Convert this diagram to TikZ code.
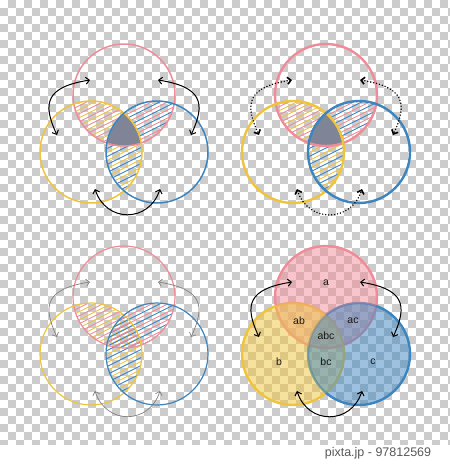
\documentclass[tikz,border=0pt]{standalone}
\usepackage{fontspec}
\setmainfont{Liberation Sans}
\usetikzlibrary{calc}
\usetikzlibrary{arrows.meta}

\definecolor{vred}{HTML}{F08C98}
\definecolor{vyellow}{HTML}{EFC43C}
\definecolor{vblue}{HTML}{3C85BF}
\definecolor{vgray}{HTML}{7F8596}
\definecolor{checker}{HTML}{CCCCCC}

\tikzset{
  hatch/.style={line width=0.9pt},
  link/.style={{Straight Barb[length=3.5pt,width=7pt]}-{Straight Barb[length=3.5pt,width=7pt]}, line width=1pt},
  dotlink/.style={link, line width=1.6pt, dash pattern=on 0pt off 3pt, line cap=round},
  greylink/.style={link, line width=0.7pt, black!50},
  setname/.style={font=\fontsize{10.5}{12}\selectfont, text=black!90}
}

% two-colour hatching of the lens of two circles
\newcommand{\hatchlens}[4]{%
  \begin{scope}
    \clip (#1) circle (51pt);
    \clip (#2) circle (51pt);
    \foreach \k in {-10,...,10} {
      \draw[#3, hatch] ($(#1)!.5!(#2)+(-60,8*\k+30)$) -- +(120,-60);
      \draw[#4, hatch] ($(#1)!.5!(#2)+(-60,8*\k+34)$) -- +(120,-60);
    }
  \end{scope}}

% the three curved arrows of one diagram
\newcommand{\vlinks}[2]{%
  \coordinate (lt#1) at ($(a#1)+(-34,-15)$);
  \coordinate (lb#1) at ($(a#1)+(-67,40)$);
  \coordinate (rt#1) at ($(a#1)+(34,-15)$);
  \coordinate (rb#1) at ($(a#1)+(67,40)$);
  \coordinate (bl#1) at ($(a#1)+(-29,94)$);
  \coordinate (br#1) at ($(a#1)+(36,94)$);
  \draw[#2] (lt#1) .. controls ($(a#1)+(-78,-8)$) and ($(a#1)+(-82,8)$) .. (lb#1);
  \draw[#2] (rt#1) .. controls ($(a#1)+(78,-8)$) and ($(a#1)+(82,8)$) .. (rb#1);
  \draw[#2] (bl#1) .. controls ($(a#1)+(-18,128)$) and ($(a#1)+(25,128)$) .. (br#1);}

\begin{document}
\begin{tikzpicture}[x=1pt,y=-1pt]
\useasboundingbox (0,0) rectangle (450,469);
\fill[white] (0,0) rectangle (450,469);

% transparency checkers
\begin{scope}
  \clip (0,0) rectangle (450,444);
  \foreach \i in {0,2,...,56} \foreach \j in {0,2,...,56} {
    \fill[checker] (8*\i+8,8*\j) rectangle +(8,8);
    \fill[checker] (8*\i,8*\j+8) rectangle +(8,8);
  }
\end{scope}

\foreach \n/\x/\y in {1/124/95, 2/326/95, 3/124/297, 4/326/297} {
  \coordinate (a\n) at (\x,\y);
  \coordinate (b\n) at (\x-33,\y+57);
  \coordinate (c\n) at (\x+33,\y+57);
}

% top left
\hatchlens{a1}{b1}{vred}{vyellow}
\hatchlens{a1}{c1}{vred}{vblue}
\hatchlens{b1}{c1}{vyellow}{vblue}
\begin{scope}
  \clip (a1) circle (51pt);
  \clip (b1) circle (51pt);
  \fill[vgray] (c1) circle (51pt);
\end{scope}
\draw[vred, line width=1.5pt] (a1) circle (51pt);
\draw[vyellow, line width=1.5pt] (b1) circle (51pt);
\draw[vblue, line width=1.5pt] (c1) circle (51pt);
\vlinks{1}{link}

% top right
\hatchlens{a2}{b2}{vred}{vyellow}
\hatchlens{a2}{c2}{vred}{vblue}
\hatchlens{b2}{c2}{vyellow}{vblue}
\begin{scope}
  \clip (a2) circle (51pt);
  \clip (b2) circle (51pt);
  \fill[vgray] (c2) circle (51pt);
\end{scope}
\draw[vred, line width=2.4pt] (a2) circle (51pt);
\draw[vyellow, line width=2.4pt] (b2) circle (51pt);
\draw[vblue, line width=2.4pt] (c2) circle (51pt);
\vlinks{2}{dotlink}

% bottom left
\hatchlens{a3}{b3}{vred}{vyellow}
\hatchlens{b3}{c3}{vyellow}{vblue}
\hatchlens{a3}{c3}{vred}{vblue}
\draw[vred, line width=1.2pt] (a3) circle (51pt);
\draw[vyellow, line width=1.2pt] (b3) circle (51pt);
\draw[vblue, line width=1.2pt] (c3) circle (51pt);
\vlinks{3}{greylink}

% bottom right: rims first, tinted fills over them
\draw[vred, line width=2.4pt] (a4) circle (51pt);
\draw[vyellow, line width=2.4pt] (b4) circle (51pt);
\draw[vblue, line width=2.4pt] (c4) circle (51pt);
\fill[vred, fill opacity=.5] (a4) circle (51pt);
\fill[vyellow, fill opacity=.5] (b4) circle (51pt);
\fill[vblue, fill opacity=.5] (c4) circle (51pt);
\node[setname] (na) at ($(a4)+(0,-14)$) {a};
\node[setname] (nab) at ($(a4)+(-27,24)$) {ab};
\node[setname] (nac) at ($(a4)+(27,24)$) {ac};
\node[setname] (nabc) at ($(a4)+(0,39)$) {abc};
\node[setname] (nb) at ($(a4)+(-47,65)$) {b};
\node[setname] (nbc) at ($(a4)+(0,65)$) {bc};
\node[setname] (nc) at ($(a4)+(47,65)$) {c};
\vlinks{4}{link}

\node[font=\fontsize{12.5}{14}\selectfont, text=black!65] (credit) at (378,453) {pixta.jp - 97812569};
\end{tikzpicture}
\end{document}
